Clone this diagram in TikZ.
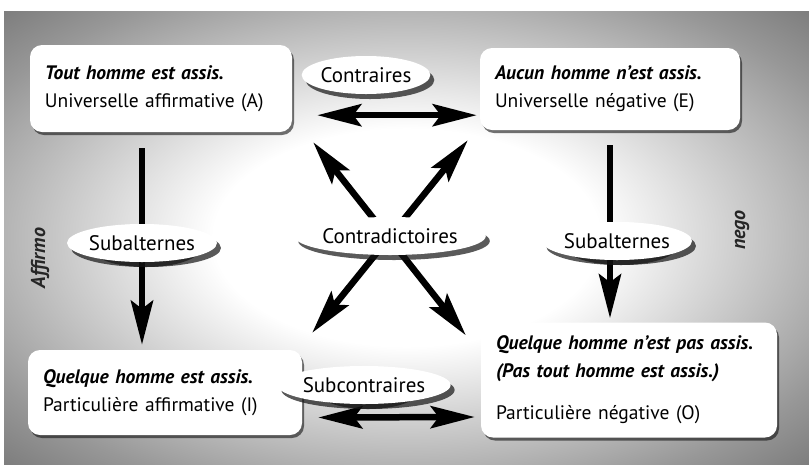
\documentclass[tikz,border=0pt]{standalone}
\usepackage{fontspec}
\setmainfont{PT Sans}
\usetikzlibrary{positioning}
\usetikzlibrary{shapes.geometric}
\usetikzlibrary{arrows.meta}
\usetikzlibrary{shadows}
\definecolor{grisfonce}{HTML}{303030}
\definecolor{ombre}{HTML}{141414}
\pgfdeclareradialshading{grain}{\pgfpoint{0bp}{0bp}}{%
  color(0bp)=(white); color(12bp)=(white); color(30bp)=(grisfonce!50); color(45bp)=(grisfonce!85); color(71bp)=(grisfonce)}
\newcommand{\prop}[1]{\textbf{\textit{#1}}}

\begin{document}
\begin{tikzpicture}[
    x=1pt, y=-1pt,
    font=\fontsize{19.5}{28}\selectfont,
    every node/.style={inner sep=0pt},
    boxnode/.style={
      rectangle,
      rounded corners=12pt,
      fill=white,
      align=left,
      inner xsep=15pt,
      drop shadow={shadow xshift=2pt, shadow yshift=-3pt, fill=ombre, opacity=.6}
    },
    bulle/.style={
      ellipse,
      fill=white,
      minimum height=38pt,
      font=\fontsize{21}{24}\selectfont,
      drop shadow={shadow xshift=4pt, shadow yshift=-5pt, fill=ombre, opacity=.7}
    },
    heavy/.style={
      line width=6.5pt,
      {Stealth[length=44pt,width=22pt,inset=8pt]}-{Stealth[length=44pt,width=22pt,inset=8pt]}
    },
    heavydown/.style={
      line width=6.5pt,
      -{Stealth[length=44pt,width=22pt,inset=8pt]}
    },
    cote/.style={rotate=90, font=\fontsize{20}{20}\selectfont\bfseries\itshape, text=black!85}
]
  \useasboundingbox (0,0) rectangle (809,467);
  \shade[shading=grain] (4,11) rectangle (809,464);

  % les quatre propositions
  \node[boxnode, text width=232pt, minimum height=87pt] (univaff) at (161,88.5) {
    \prop{Tout homme est assis.}
    \\ Universelle affirmative (A)
  };

  \node[boxnode, text width=230pt, minimum height=82pt] (univneg) at (610,89) {
    \prop{Aucun homme n'est assis.}
    \\ Universelle négative (E)
  };

  \node[boxnode, text width=244pt, minimum height=85pt] (partaff) at (165,392.5) {
    \prop{Quelque homme est assis.}
    \\ Particulière affirmative (I)
  };

  \node[boxnode, text width=266pt, minimum height=115pt] (partneg) at (629,380) {
    \prop{Quelque homme n'est pas assis.}
    \\ \prop{(Pas tout homme est assis.)}
    \\[14pt] Particulière négative (O)
  };

  % les relations
  \node[bulle, minimum width=108pt] (contraires) at (366,75) {Contraires};
  \node[bulle, minimum width=110pt] (subaltg) at (142,243) {};
  \node[bulle, minimum width=113pt] (subaltd) at (617,241) {};
  \node[bulle, minimum width=104pt] (subcontraires) at (364,385) {};

  \draw[heavy] ([xshift=25pt,yshift=17pt]univaff.south east)
    -- ([xshift=-3pt,yshift=15pt]univneg.south west);

  \draw[heavy] ([xshift=16pt,yshift=-25pt]partaff.east)
    -- ([xshift=-6pt,yshift=-37pt]partneg.west);

  \draw[heavydown, shorten <=16pt, shorten >=5pt]
    (univaff.south -| subaltg) -- (partaff.north -| subaltg);

  \draw[heavydown, shorten <=15pt, shorten >=4pt]
    ([xshift=-7pt]subaltd.center |- univneg.south)
    -- ([xshift=-7pt]subaltd.center |- partneg.north);

  \draw[heavy] ([xshift=21pt,yshift=-10pt]univaff.south east)
    -- ([xshift=-15pt,yshift=-13pt]partneg.north west);

  \draw[heavy] ([xshift=-12pt,yshift=-10pt]univneg.south west)
    -- ([xshift=10pt,yshift=17pt]partaff.north east);

  \node[bulle, minimum width=112pt] at (subaltg) {Subalternes};
  \node[bulle, minimum width=115pt] at (subaltd) {Subalternes};
  \node[bulle, minimum width=182pt] (contradictoires) at (390,236) {Contradictoires};
  \node[bulle, minimum width=104pt] at (subcontraires) {Subcontraires};

  % affirmo / nego
  \node[cote] (affirmo) at (40,258) {Affirmo};
  \node[cote] (nego) at (742,230) {nego};

\end{tikzpicture}
\end{document}
